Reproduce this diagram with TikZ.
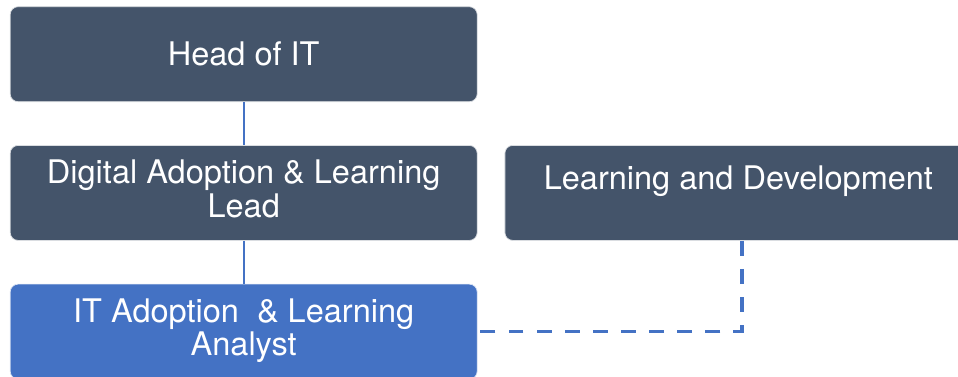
\documentclass[tikz,border=0pt]{standalone}
\usepackage{fontspec}
\setmainfont{TeX Gyre Heros}
\usetikzlibrary{matrix,positioning}

\definecolor{slate}{HTML}{44546A}
\definecolor{office}{HTML}{4472C4}
\newcommand{\twolines}[2]{\begin{tabular}{@{}c@{}}#1\\[-2.6pt]#2\end{tabular}}

\tikzset{
  role/.style={draw=white!80!slate, line width=0.4pt, fill=slate, text=white,
    rounded corners=4.5pt, minimum width=9.34cm, minimum height=1.9cm,
    align=center, inner sep=0pt, font=\fontsize{18.5}{21.5}\selectfont},
  staff/.style={role, fill=office, draw=white!80!office},
  link/.style={draw=office, line width=1.1pt},
  dotted link/.style={draw=office, line width=1.8pt, dash pattern=on 8.5pt off 7.5pt}
}

\begin{document}
\begin{tikzpicture}
  \useasboundingbox (0,0) rectangle (19.16,-7.52);
  \clip (0,0) rectangle (19.16,-7.52);
  \matrix (m) [matrix of nodes, row sep=0.86cm, column sep=0.54cm, inner sep=0pt,
    nodes={role, anchor=center}, anchor=north west] at (0.19,-0.12)
  {
 Head of IT& \\
 \twolines{Digital Adoption \& Learning}{Lead}& \raisebox{0.06cm}[0pt][0pt]{Learning and Development}\\
 |[staff]| \twolines{IT Adoption~ \& Learning}{Analyst}& \\
};
  \path[link]
  (m-1-1) edge (m-2-1)
  (m-2-1) edge (m-3-1);
  \draw[dotted link] ([xshift=2pt]m-2-2.south) |- (m-3-1.east);
\end{tikzpicture}
\end{document}
